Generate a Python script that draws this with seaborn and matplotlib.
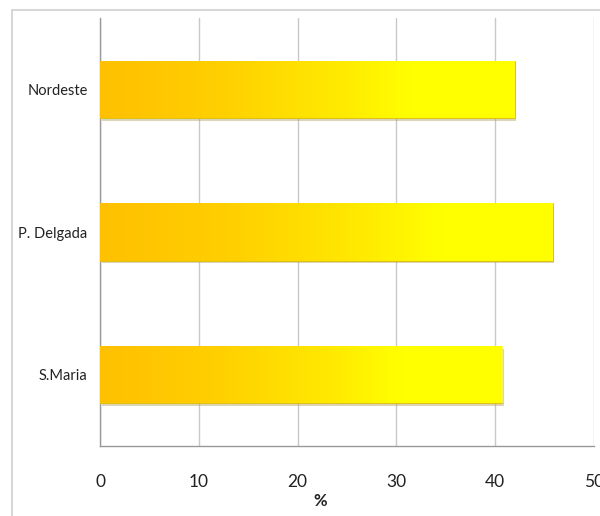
#%% libraries
import numpy as np
import pandas as pd
import matplotlib
matplotlib.use("Agg")
import matplotlib.pyplot as plt
import seaborn as sns
from matplotlib.colors import LinearSegmentedColormap
from matplotlib.patches import Rectangle

#%% data
localidades = ["Nordeste", "P. Delgada", "S.Maria"]
percentagens = [42.0, 45.8, 40.7]
xticks = [0, 10, 20, 30, 40, 50]

df = pd.DataFrame({"Local": localidades, "Pct": percentagens})

#%% plot
sns.set_style("white")
plt.rcParams["font.family"] = ["Lato", "DejaVu Sans"]

fig = plt.figure(figsize=(6, 5.16), dpi=100)
ax = fig.add_axes([0.1667, 0.1357, 0.8233, 0.8293])

# light frame round the chart
fig.patches.append(Rectangle((0.02, -0.1), 1.2, 1.08, transform=fig.transFigure,
                             fill=False, edgecolor="#d0d0d0", linewidth=1.2))

sns.barplot(data=df, x="Pct", y="Local", orient="h", width=0.4,
            color="#ffd700", ax=ax, zorder=3)

# orange -> yellow gradient on each bar, with a soft shadow
grad_cmap = LinearSegmentedColormap.from_list(
    "oy", [(0, "#ffc000"), (0.3, "#ffd000"), (0.6, "#ffec00"), (0.75, "#ffff00"), (1, "#ffff00")])
grad = np.linspace(0, 1, 256).reshape(1, -1)
for bar in ax.patches:
    x0, y0 = bar.get_x(), bar.get_y()
    w, h = bar.get_width(), bar.get_height()
    shadow = Rectangle((x0 + 0.15, y0 + 0.02), w, h, facecolor="#b0a060",
                       alpha=0.45, edgecolor="none", zorder=2)
    ax.add_patch(shadow)
    img = ax.imshow(grad, cmap=grad_cmap, aspect="auto", zorder=4,
                    extent=[x0, x0 + w, y0 + h, y0], interpolation="bicubic")
    img.set_clip_path(bar)
    bar.set_edgecolor("#e0c000")
    bar.set_linewidth(0.6)

ax.set_xlim(0, 50)
ax.set_ylim(2.5, -0.5)
ax.set_xticks(xticks)
ax.set_xticklabels([str(t) for t in xticks], fontsize=12.5, color="#222222")
ax.set_yticks(range(len(localidades)))
ax.set_yticklabels(localidades, fontsize=10.5, color="#222222")
ax.set_yticks([-0.5, 0.5, 1.5, 2.5], minor=True)
ax.tick_params(axis="y", which="major", length=0, pad=9)
ax.tick_params(axis="y", which="minor", length=6, color="#999999", direction="out")
ax.tick_params(axis="x", length=6, color="#999999", direction="out", pad=14)

ax.grid(True, axis="x", color="#c8c8c8", linewidth=1, zorder=0)
ax.set_axisbelow(True)
ax.set_xlabel("%", fontsize=12, color="#222222", fontweight="bold", va="center")
ax.xaxis.set_label_coords(0.445, -0.128)
ax.set_ylabel("")

for side in ["top", "right"]:
    ax.spines[side].set_visible(False)
for side in ["left", "bottom"]:
    ax.spines[side].set_color("#999999")
    ax.spines[side].set_linewidth(1)

plt.savefig("out.png", dpi=100)
